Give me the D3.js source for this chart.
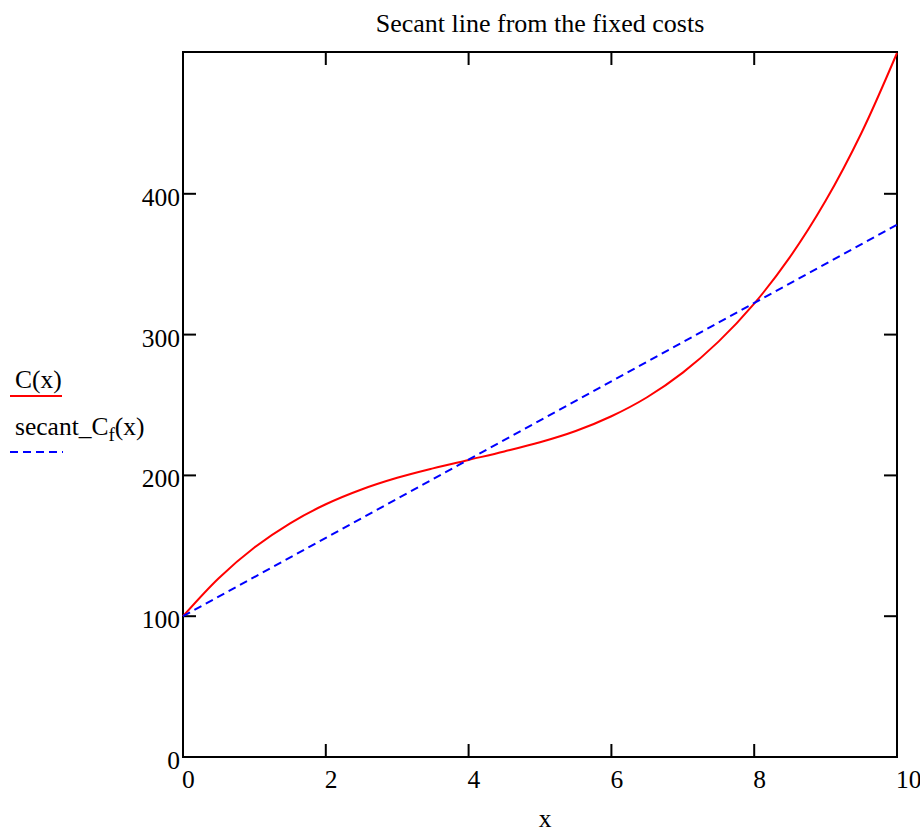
<!DOCTYPE html>
<html><head><meta charset="utf-8">
<script src="https://cdn.jsdelivr.net/npm/d3@7"></script>
<style>body{margin:0;background:#fff}svg{display:block}text{font-family:"Liberation Serif","Times New Roman",serif;fill:#000}</style>
</head><body>
<script>
const xVals = [0,0.5,1,1.5,2,2.5,3,3.5,4,4.5,5,5.5,6,6.5,7,7.5,8,8.5,9,9.5,10];
const costVals = [100,127,148.8,166,179.5,190,198.3,205,211,217,223.5,231.5,242,255.5,273,295,322,355,395,443,500];
const secantX = [0,10];
const secantVals = [100,378];
const xTicks = [0,2,4,6,8,10];
const yTicks = [0,100,200,300,400];
const title = "Secant line from the fixed costs";

const W=920,H=834;
const L=183,R=897,T=52,B=757;
const FS=25.5;
const svg=d3.select("body").append("svg").attr("width",W).attr("height",H);
const x=d3.scaleLinear().domain([0,10]).range([L,R]);
const y=d3.scaleLinear().domain([0,500]).range([B,T+1]);

svg.append("text").attr("x",540).attr("y",32).attr("text-anchor","middle").attr("font-size",26).text(title);

// ticks inside
const g=svg.append("g").attr("stroke","#000").attr("stroke-width",2);
xTicks.forEach(t=>{
  g.append("line").attr("x1",x(t)).attr("x2",x(t)).attr("y1",B).attr("y2",B-13);
  g.append("line").attr("x1",x(t)).attr("x2",x(t)).attr("y1",T).attr("y2",T+13);
});
yTicks.forEach(t=>{
  g.append("line").attr("x1",L).attr("x2",L+13).attr("y1",y(t)).attr("y2",y(t));
  g.append("line").attr("x1",R).attr("x2",R-13).attr("y1",y(t)).attr("y2",y(t));
});
svg.append("rect").attr("x",L).attr("y",T).attr("width",R-L).attr("height",B-T)
  .attr("fill","none").attr("stroke","#000").attr("stroke-width",2);

xTicks.forEach(t=>{
  svg.append("text").attr("x",x(t)-1).attr("y",B+31).attr("font-size",FS).attr("text-anchor","start").text(t);
});
yTicks.forEach(t=>{
  svg.append("text").attr("x",L-3).attr("y",y(t)+12).attr("font-size",FS).attr("text-anchor","end").text(t);
});
svg.append("text").attr("x",545).attr("y",827).attr("text-anchor","middle").attr("font-size",FS).text("x");

const line=d3.line().x(d=>x(d[0])).y(d=>y(d[1])).curve(d3.curveCatmullRom);
svg.append("path").datum(xVals.map((v,i)=>[v,costVals[i]])).attr("d",line)
  .attr("fill","none").attr("stroke","#ff0000").attr("stroke-width",2);
svg.append("path").datum(secantX.map((v,i)=>[v,secantVals[i]])).attr("d",d3.line().x(d=>x(d[0])).y(d=>y(d[1])))
  .attr("fill","none").attr("stroke","#0000ff").attr("stroke-width",2).attr("stroke-dasharray","8,5");

// legend
svg.append("text").attr("x",15).attr("y",388).attr("font-size",FS).text("C(x)");
svg.append("line").attr("x1",10).attr("x2",62).attr("y1",396).attr("y2",396).attr("stroke","#ff0000").attr("stroke-width",2);
const t2=svg.append("text").attr("x",15).attr("y",435).attr("font-size",FS);
t2.append("tspan").text("secant_C");
t2.append("tspan").attr("dy",6).attr("font-size",19).text("f");
t2.append("tspan").attr("dy",-6).text("(x)");
svg.append("line").attr("x1",10).attr("x2",63).attr("y1",452).attr("y2",452).attr("stroke","#0000ff").attr("stroke-width",2).attr("stroke-dasharray","8,5");
</script>
</body></html>
